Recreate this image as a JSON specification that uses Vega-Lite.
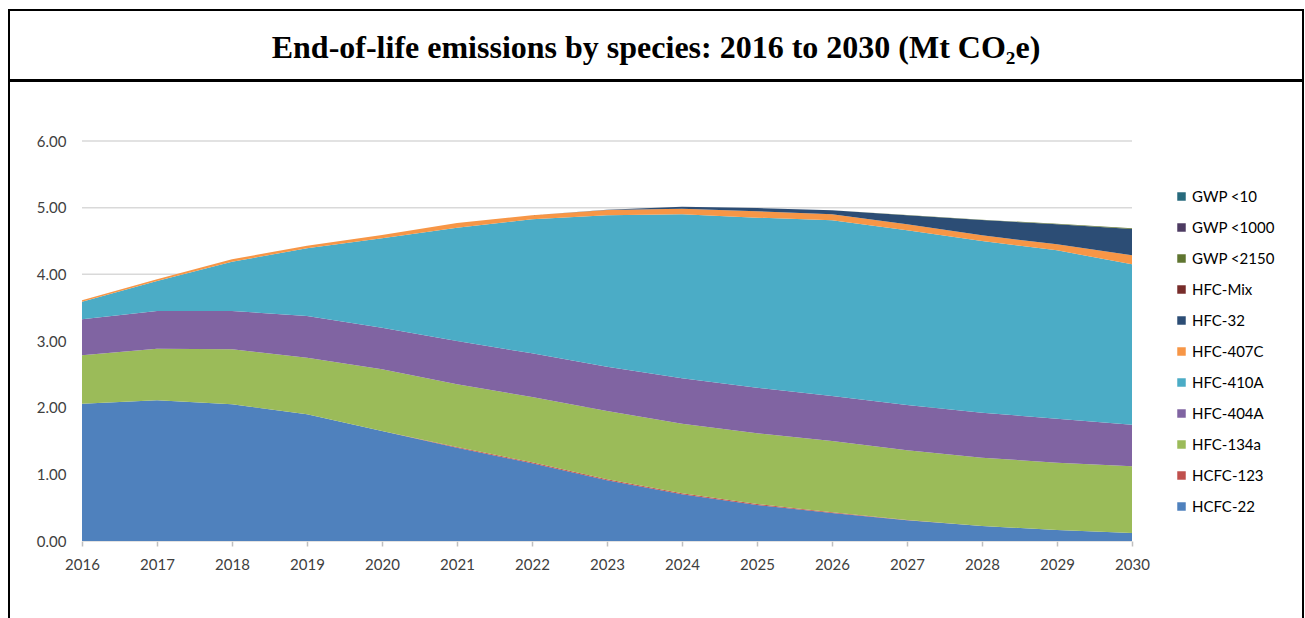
{
  "$schema": "https://vega.github.io/schema/vega-lite/v6.json",
  "padding": {"left": 8, "top": 9, "right": 0, "bottom": 0},
  "background": "white",
  "spacing": -2,
  "config": {
    "view": {"stroke": "black", "strokeWidth": 2},
    "font": "Lato",
    "concat": {"spacing": -2}
  },
  "vconcat": [
    {
      "width": 1294,
      "height": 70,
      "data": {"values": [{"t": "End-of-life emissions by species: 2016 to 2030 (Mt CO₂e)"}]},
      "mark": {"type": "text", "font": "Liberation Serif", "fontWeight": "bold", "fontSize": 32, "baseline": "alphabetic", "align": "center", "color": "black"},
      "encoding": {
        "text": {"field": "t", "type": "nominal"},
        "x": {"datum": 0.5, "type": "quantitative", "scale": {"domain": [0, 1], "nice": false}, "axis": null},
        "y": {"datum": 0.32, "type": "quantitative", "scale": {"domain": [0, 1], "nice": false}, "axis": null}
      }
    },
    {
      "width": 1294,
      "height": 540,
      "layer": [
        {
          "data": {"values": [{"g": 0}, {"g": 1}, {"g": 2}, {"g": 3}, {"g": 4}, {"g": 5}, {"g": 6}]},
          "mark": {"type": "rule", "color": "#D9D9D9", "strokeWidth": 1.5},
          "encoding": {
            "y": {"field": "g", "type": "quantitative", "scale": {"domain": [-1.2, 6.9], "nice": false, "zero": false},
              "axis": {"orient": "left", "offset": -73, "values": [0, 1, 2, 3, 4, 5, 6], "format": ".2f", "domain": false, "ticks": false, "grid": false, "labelPadding": 16, "labelFontSize": 15, "labelColor": "#404040", "title": null}},
            "x": {"datum": 2016, "type": "quantitative", "scale": {"domain": [2015.02667, 2032.28], "nice": false, "zero": false},
              "axis": {"orient": "bottom", "offset": -80, "values": [2016, 2017, 2018, 2019, 2020, 2021, 2022, 2023, 2024, 2025, 2026, 2027, 2028, 2029, 2030], "format": "d", "domain": false, "ticks": true, "tickColor": "#BFBFBF", "tickSize": 5, "tickWidth": 1.5, "grid": false, "labelPadding": 11, "labelFontSize": 15, "labelColor": "#404040", "labelOverlap": false, "labelFlush": false, "title": null}},
            "x2": {"datum": 2030}
          }
        },
        {
          "data": {"values": [
            {"year": 2016, "HCFC-22": 2.06, "HCFC-123": 0, "HFC-134a": 0.725, "HFC-404A": 0.54, "HFC-410A": 0.265, "HFC-407C": 0.02, "HFC-32": 0, "HFC-Mix": 0, "GWP <2150": 0, "GWP <1000": 0, "GWP <10": 0},
            {"year": 2017, "HCFC-22": 2.11, "HCFC-123": 0, "HFC-134a": 0.775, "HFC-404A": 0.565, "HFC-410A": 0.45, "HFC-407C": 0.025, "HFC-32": 0, "HFC-Mix": 0, "GWP <2150": 0, "GWP <1000": 0, "GWP <10": 0},
            {"year": 2018, "HCFC-22": 2.05, "HCFC-123": 0, "HFC-134a": 0.825, "HFC-404A": 0.575, "HFC-410A": 0.74, "HFC-407C": 0.035, "HFC-32": 0, "HFC-Mix": 0, "GWP <2150": 0, "GWP <1000": 0, "GWP <10": 0},
            {"year": 2019, "HCFC-22": 1.9, "HCFC-123": 0, "HFC-134a": 0.85, "HFC-404A": 0.625, "HFC-410A": 1.015, "HFC-407C": 0.04, "HFC-32": 0, "HFC-Mix": 0, "GWP <2150": 0, "GWP <1000": 0, "GWP <10": 0},
            {"year": 2020, "HCFC-22": 1.65, "HCFC-123": 0, "HFC-134a": 0.925, "HFC-404A": 0.625, "HFC-410A": 1.34, "HFC-407C": 0.05, "HFC-32": 0, "HFC-Mix": 0, "GWP <2150": 0, "GWP <1000": 0, "GWP <10": 0},
            {"year": 2021, "HCFC-22": 1.4, "HCFC-123": 0.01, "HFC-134a": 0.94, "HFC-404A": 0.65, "HFC-410A": 1.7, "HFC-407C": 0.07, "HFC-32": 0, "HFC-Mix": 0, "GWP <2150": 0, "GWP <1000": 0, "GWP <10": 0},
            {"year": 2022, "HCFC-22": 1.165, "HCFC-123": 0.015, "HFC-134a": 0.98, "HFC-404A": 0.655, "HFC-410A": 2.01, "HFC-407C": 0.06, "HFC-32": 0, "HFC-Mix": 0, "GWP <2150": 0, "GWP <1000": 0, "GWP <10": 0},
            {"year": 2023, "HCFC-22": 0.91, "HCFC-123": 0.015, "HFC-134a": 1.025, "HFC-404A": 0.665, "HFC-410A": 2.27, "HFC-407C": 0.08, "HFC-32": 0.005, "HFC-Mix": 0, "GWP <2150": 0, "GWP <1000": 0, "GWP <10": 0},
            {"year": 2024, "HCFC-22": 0.7, "HCFC-123": 0.015, "HFC-134a": 1.045, "HFC-404A": 0.68, "HFC-410A": 2.46, "HFC-407C": 0.085, "HFC-32": 0.03, "HFC-Mix": 0, "GWP <2150": 0, "GWP <1000": 0, "GWP <10": 0},
            {"year": 2025, "HCFC-22": 0.54, "HCFC-123": 0.015, "HFC-134a": 1.06, "HFC-404A": 0.685, "HFC-410A": 2.55, "HFC-407C": 0.095, "HFC-32": 0.05, "HFC-Mix": 0, "GWP <2150": 0, "GWP <1000": 0, "GWP <10": 0},
            {"year": 2026, "HCFC-22": 0.42, "HCFC-123": 0.01, "HFC-134a": 1.07, "HFC-404A": 0.675, "HFC-410A": 2.635, "HFC-407C": 0.09, "HFC-32": 0.06, "HFC-Mix": 0, "GWP <2150": 0, "GWP <1000": 0, "GWP <10": 0},
            {"year": 2027, "HCFC-22": 0.31, "HCFC-123": 0.005, "HFC-134a": 1.045, "HFC-404A": 0.68, "HFC-410A": 2.62, "HFC-407C": 0.09, "HFC-32": 0.135, "HFC-Mix": 0, "GWP <2150": 0.005, "GWP <1000": 0, "GWP <10": 0},
            {"year": 2028, "HCFC-22": 0.225, "HCFC-123": 0, "HFC-134a": 1.025, "HFC-404A": 0.675, "HFC-410A": 2.575, "HFC-407C": 0.085, "HFC-32": 0.23, "HFC-Mix": 0, "GWP <2150": 0.005, "GWP <1000": 0, "GWP <10": 0},
            {"year": 2029, "HCFC-22": 0.165, "HCFC-123": 0, "HFC-134a": 1.01, "HFC-404A": 0.66, "HFC-410A": 2.525, "HFC-407C": 0.09, "HFC-32": 0.3, "HFC-Mix": 0, "GWP <2150": 0.008, "GWP <1000": 0, "GWP <10": 0},
            {"year": 2030, "HCFC-22": 0.12, "HCFC-123": 0, "HFC-134a": 1.0, "HFC-404A": 0.625, "HFC-410A": 2.405, "HFC-407C": 0.135, "HFC-32": 0.395, "HFC-Mix": 0, "GWP <2150": 0.01, "GWP <1000": 0, "GWP <10": 0}
          ]},
          "transform": [
            {"fold": ["HCFC-22", "HCFC-123", "HFC-134a", "HFC-404A", "HFC-410A", "HFC-407C", "HFC-32", "HFC-Mix", "GWP <2150", "GWP <1000", "GWP <10"], "as": ["species", "value"]},
            {"calculate": "indexof(['HCFC-22','HCFC-123','HFC-134a','HFC-404A','HFC-410A','HFC-407C','HFC-32','HFC-Mix','GWP <2150','GWP <1000','GWP <10'], datum.species)", "as": "k"}
          ],
          "mark": {"type": "area", "interpolate": "linear"},
          "encoding": {
            "x": {
              "field": "year", "type": "quantitative",
              "scale": {"domain": [2015.02667, 2032.28], "nice": false, "zero": false},
              "axis": {"orient": "bottom", "offset": -80, "values": [2016, 2017, 2018, 2019, 2020, 2021, 2022, 2023, 2024, 2025, 2026, 2027, 2028, 2029, 2030], "format": "d", "domain": false, "ticks": true, "tickColor": "#BFBFBF", "tickSize": 5, "tickWidth": 1.5, "grid": false, "labelPadding": 11, "labelFontSize": 15, "labelColor": "#404040", "labelOverlap": false, "labelFlush": false, "title": null}
            },
            "y": {
              "field": "value", "type": "quantitative", "stack": "zero",
              "scale": {"domain": [-1.2, 6.9], "nice": false, "zero": false},
              "axis": {"orient": "left", "offset": -73, "values": [0, 1, 2, 3, 4, 5, 6], "format": ".2f", "domain": false, "ticks": false, "grid": false, "labelPadding": 16, "labelFontSize": 15, "labelColor": "#404040", "title": null}
            },
            "color": {
              "field": "species", "type": "nominal",
              "scale": {
                "domain": ["GWP <10", "GWP <1000", "GWP <2150", "HFC-Mix", "HFC-32", "HFC-407C", "HFC-410A", "HFC-404A", "HFC-134a", "HCFC-123", "HCFC-22"],
                "range": ["#276A7C", "#4D3B62", "#5F7530", "#772C2A", "#2C4D75", "#F79646", "#4BACC6", "#8064A2", "#9BBB59", "#C0504D", "#4F81BD"]
              },
              "legend": {"orient": "none", "legendX": 1165, "legendY": 179, "title": null, "symbolType": "square", "symbolSize": 72, "symbolStrokeWidth": 0, "labelFontSize": 15, "labelOffset": 3, "rowPadding": 15, "padding": 0, "labelColor": "#000000"}
            },
            "order": {"field": "k", "type": "quantitative"}
          }
        }
      ]
    }
  ]
}
